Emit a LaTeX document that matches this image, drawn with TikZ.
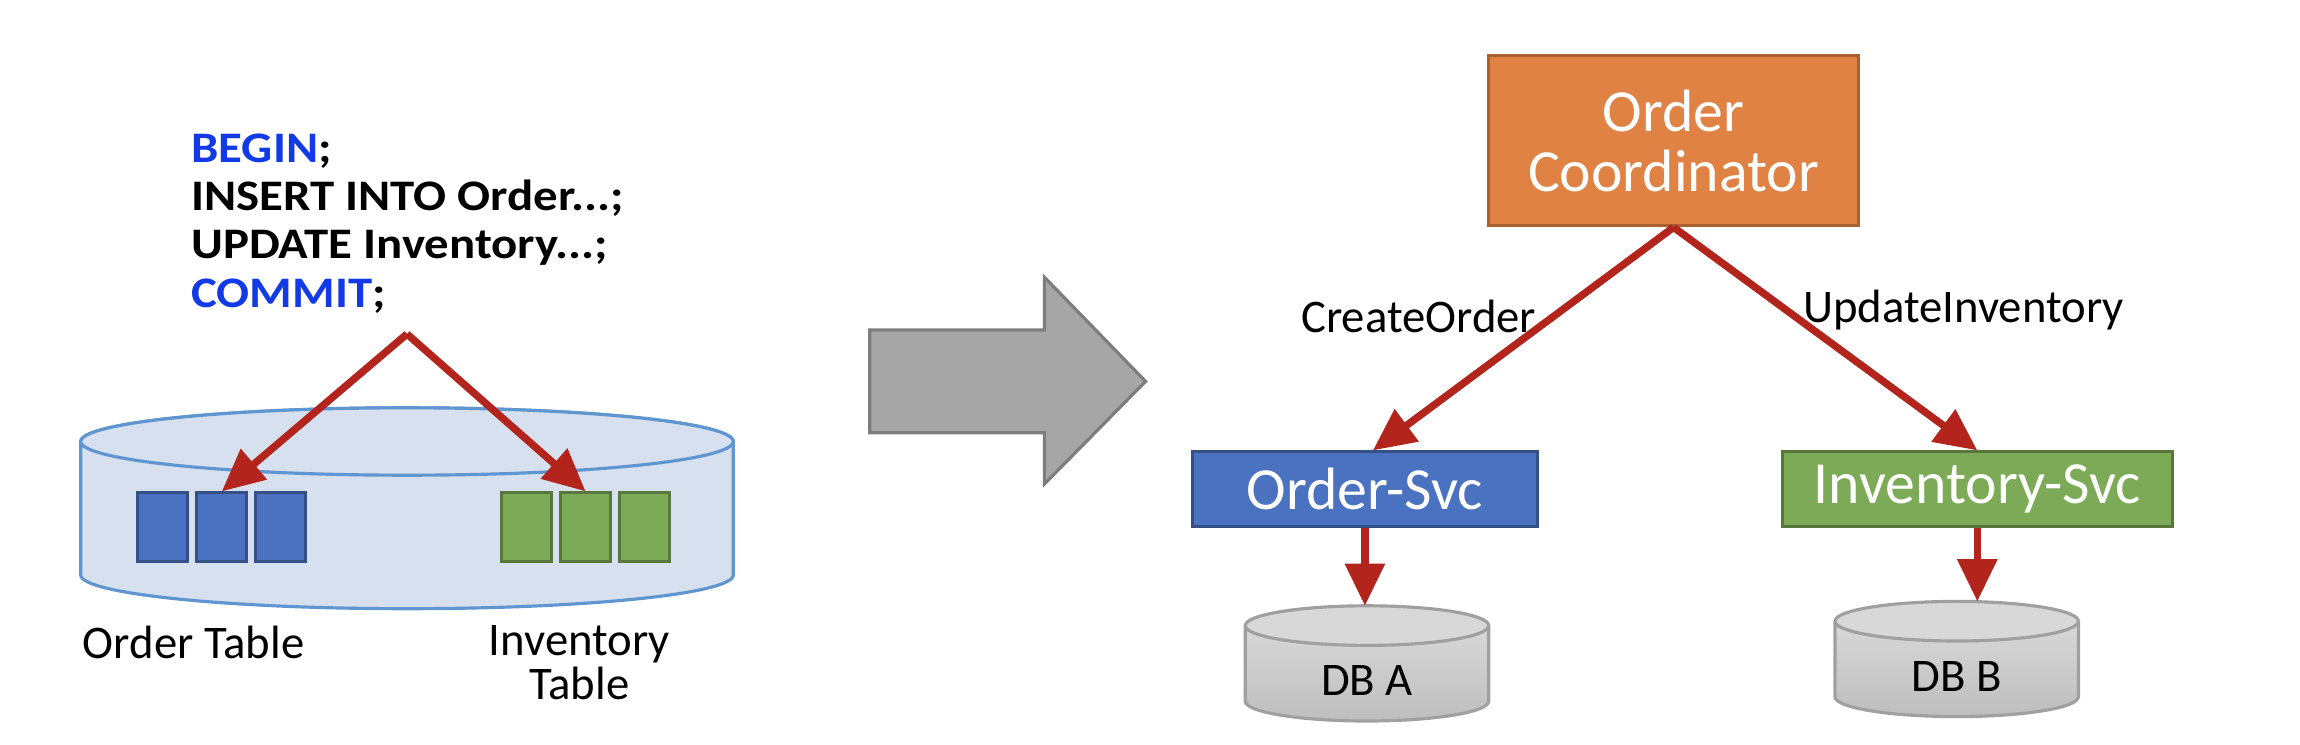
\documentclass[tikz,border=0pt]{standalone}
\usepackage{fontspec}
\setmainfont{Carlito}
\newfontfamily\sqlfont[FakeStretch=1.12]{Carlito}
\usetikzlibrary{arrows.meta}

\definecolor{kwblue}{RGB}{18,58,230}
\definecolor{arrowred}{RGB}{178,36,28}
\definecolor{ordblue}{RGB}{74,114,192}
\definecolor{invgreen}{RGB}{125,170,86}
\definecolor{coordorange}{RGB}{224,130,68}
\definecolor{tabfill}{RGB}{214,224,238}
\definecolor{tabline}{RGB}{96,150,208}
\definecolor{bigarrow}{RGB}{166,166,166}
\definecolor{dbtop}{RGB}{216,216,216}
\definecolor{dbbot}{RGB}{190,190,190}
\definecolor{dbline}{RGB}{160,160,160}

\begin{document}
\begin{tikzpicture}[
    redarrow/.style={draw=arrowred, line width=2.1pt, -{Triangle[length=12pt,width=11pt]}},
    cell/.style={draw=#1!70!black, fill=#1, line width=0.8pt, minimum width=0.5cm, minimum height=0.69cm, inner sep=0pt},
    svcbox/.style={draw=#1!70!black, fill=#1, line width=0.8pt, text=white, font=\fontsize{17}{17}\selectfont, minimum height=0.748cm, inner sep=0pt},
    lbl/.style={font=\fontsize{13.3}{12.5}\selectfont, inner sep=1pt},
    tabcyl/.style={draw=tabline, fill=tabfill, line width=0.9pt},
    dbcyl/.style={draw=dbline, line width=0.9pt}
  ]
    \useasboundingbox (0,0) rectangle (23,7.44);

    % one database, two tables
    \filldraw[tabcyl] (0.807,3.025) -- (0.807,1.69)
      arc[start angle=180,end angle=360,x radius=3.263,y radius=0.337] -- (7.333,3.025)
      arc[start angle=0,end angle=180,x radius=3.263,y radius=0.337] -- cycle;
    \filldraw[tabcyl] (4.07,3.025) ellipse[x radius=3.263,y radius=0.337];
    \foreach \i/\x in {1/1.628,2/2.218,3/2.808}
      \node[cell=ordblue] (ob\i) at (\x,2.167) {};
    \foreach \i/\x in {1/5.266,2/5.856,3/6.446}
      \node[cell=invgreen] (ib\i) at (\x,2.167) {};
    \node[lbl] (otab) at (1.936,1.015) {Order Table};
    \node[lbl,align=center] (itab) at (5.794,0.81) {Inventory\\Table};

    \node[align=left,anchor=west,inner sep=0pt,font=\sqlfont\fontsize{12.4}{13.7}\selectfont\bfseries] (sql) at (1.907,5.205)
      {\textcolor{kwblue}{BEGIN};\\INSERT INTO Order...;\\UPDATE Inventory...;\\\textcolor{kwblue}{COMMIT};};
    \coordinate (fork) at (4.07,4.10);
    \draw[redarrow] (fork) -- (ob2.north);
    \draw[redarrow] (fork) -- (ib2.north);

    % big arrow
    \filldraw[draw=bigarrow!75!black, fill=bigarrow, line width=0.9pt] (8.698,4.14) -- (10.444,4.14) -- (10.444,4.668)
      -- (11.456,3.626) -- (10.444,2.60) -- (10.444,3.113) -- (8.698,3.113) -- cycle;

    % coordinator and services
    \node[draw=coordorange!75!black, fill=coordorange, line width=0.8pt, text=white, align=center,
      font=\fontsize{17}{17}\selectfont, minimum width=3.696cm, minimum height=1.702cm] (coord) at (16.736,6.032)
      {Order\\Coordinator};
    \node[svcbox=ordblue, minimum width=3.447cm] (osvc) at (13.649,2.548) {Order-Svc};
    \node[svcbox=invgreen, minimum width=3.901cm] (isvc) at (19.773,2.548) {Inventory-Svc};

    \foreach \n/\x/\y/\t in {dba/13.67/1.184/DB A,dbb/19.567/1.228/DB B} {
      \shade[top color=dbtop, bottom color=dbbot] (\x-1.217,\y) -- (\x-1.217,\y-0.756)
        arc[start angle=180,end angle=360,x radius=1.217,y radius=0.198] -- (\x+1.217,\y) -- cycle;
      \draw[dbcyl] (\x-1.217,\y) -- (\x-1.217,\y-0.756)
        arc[start angle=180,end angle=360,x radius=1.217,y radius=0.198] -- (\x+1.217,\y);
      \filldraw[dbcyl, fill=dbtop] (\x,\y) ellipse[x radius=1.217,y radius=0.198];
      \node[lbl] (\n) at (\x,\y-0.55) {\t};
    }
    \coordinate (dbatop) at (13.67,1.382);
    \coordinate (dbbtop) at (19.567,1.426);

    \draw[redarrow] (coord.south) -- ([xshift=0.08cm]osvc.north)
      node[lbl,pos=0.4,left=0.1cm] (create) {CreateOrder};
    \draw[redarrow] (coord.south) -- (isvc.north)
      node[lbl,pos=0.37,right=0.1cm] (update) {UpdateInventory};
    \draw[redarrow] (osvc.south) -- (osvc.south |- dbatop);
    \draw[redarrow] (isvc.south) -- (isvc.south |- dbbtop);
\end{tikzpicture}
\end{document}
